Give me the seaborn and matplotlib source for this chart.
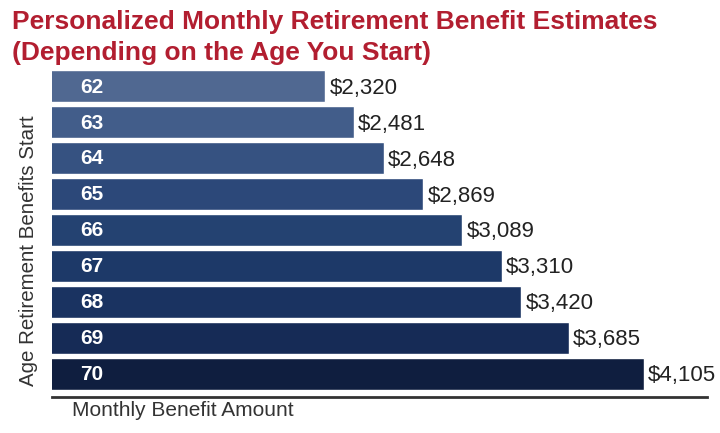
import matplotlib as mpl
import matplotlib.pyplot as plt
import seaborn as sns
import pandas as pd

ages = ["62", "63", "64", "65", "66", "67", "68", "69", "70"]
benefits = [2320, 2481, 2648, 2869, 3089, 3310, 3420, 3685, 4105]
bar_colors = ["#506891", "#425d8a", "#365281", "#2c4879", "#244271",
              "#1d3968", "#1a3361", "#162b56", "#0f1e3f"]

sns.set_style("white")
plt.rcParams["font.family"] = ["Liberation Sans", "DejaVu Sans"]

df = pd.DataFrame({"age": ages, "benefit": benefits})

fig = plt.figure(figsize=(7.2, 4.33), dpi=100)
ax = fig.add_axes([0.072, 0.083, 0.910, 0.755])

sns.barplot(data=df, x="benefit", y="age", hue="age", palette=bar_colors,
            orient="h", width=0.89, legend=False, ax=ax, saturation=1)

ax.set_xlim(790, 4460)
ax.set_ylim(8.64, -0.45)

for i, (a, v) in enumerate(zip(ages, benefits)):
    ax.text(950, i + 0.02, a, color="white", fontsize=15, fontweight="bold",
            va="center", ha="left")
    ax.text(v + 25, i + 0.05, f"${v:,}", color="#222222", fontsize=16,
            va="center", ha="left")

ax.set_xticks([])
ax.set_yticks([])
ax.set_xlabel("")
ax.set_ylabel("")
for s in ["top", "right", "left"]:
    ax.spines[s].set_visible(False)
ax.spines["bottom"].set_color("#333333")
ax.spines["bottom"].set_linewidth(2)

fig.text(0.039, 0.42, "Age Retirement Benefits Start", rotation=90,
         fontsize=14.8, color="#333333", va="center", ha="center")
fig.text(0.100, 0.052, "Monthly Benefit Amount", fontsize=15,
         color="#333333", va="center", ha="left")

fig.text(0.016, 0.950, "Personalized Monthly Retirement Benefit Estimates",
         fontsize=19, fontweight="bold", color="#b21e30", va="center", ha="left")
fig.text(0.016, 0.878, "(Depending on the Age You Start)",
         fontsize=19, fontweight="bold", color="#b21e30", va="center", ha="left")

fig.savefig("out.png", dpi=100)
